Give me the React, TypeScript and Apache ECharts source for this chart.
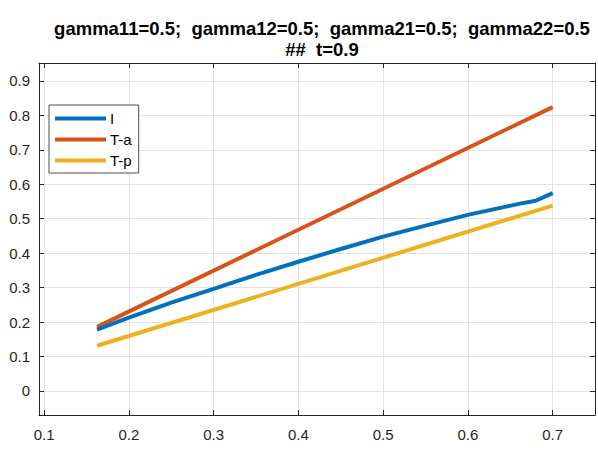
import React, { useEffect, useRef } from "react";
import * as echarts from "echarts";

const xValuesLinear: number[] = [0.1625, 0.7];
const seriesTa: number[] = [0.186, 0.824];
const seriesTp: number[] = [0.131, 0.538];

const xValuesI: number[] = [0.1625, 0.2, 0.25, 0.3, 0.35, 0.4, 0.45, 0.5, 0.55, 0.6, 0.66, 0.68, 0.7];
const seriesI: number[] = [0.178, 0.213, 0.256, 0.296, 0.337, 0.375, 0.412, 0.448, 0.48, 0.511, 0.543, 0.552, 0.574];

const seriesNames: string[] = ["I", "T-a", "T-p"];
const titleLines: string[] = [
  "gamma11=0.5;  gamma12=0.5;  gamma21=0.5;  gamma22=0.5",
  "##  t=0.9",
];

const FONT = "'Liberation Sans', Arial, Helvetica, sans-serif";
const AXIS_COLOR = "#262626";
const GRID_COLOR = "#e3e3e3";

export default function App() {
  const ref = useRef<HTMLDivElement>(null);
  useEffect(() => {
    if (!ref.current) return;
    const chart = echarts.init(ref.current, undefined, { renderer: "svg" });
    const pair = (xs: number[], ys: number[]) => xs.map((x, i) => [x, ys[i]]);
    const baseX = {
      type: "value" as const,
      min: 0.094,
      max: 0.75,
      minInterval: 0.1,
      maxInterval: 0.1,
    };
    const baseY = {
      type: "value" as const,
      min: -0.07,
      max: 0.952,
      minInterval: 0.1,
      maxInterval: 0.1,
    };
    chart.setOption({
      animation: false,
      backgroundColor: "#ffffff",
      textStyle: { fontFamily: FONT },
      title: {
        text: titleLines.join("\n"),
        left: 317,
        top: 13,
        textAlign: "center",
        textStyle: {
          fontFamily: FONT,
          fontSize: 18.5,
          fontWeight: "bold",
          color: "#000000",
          lineHeight: 21,
        },
      },
      grid: { left: 39, right: 3, top: 63, bottom: 38, containLabel: false },
      legend: {
        data: seriesNames,
        orient: "vertical",
        left: 49,
        top: 105,
        icon: "rect",
        itemWidth: 51,
        itemHeight: 4,
        itemGap: 6,
        padding: [6, 7, 5, 6],
        backgroundColor: "#ffffff",
        borderColor: "#4d4d4d",
        borderWidth: 1,
        borderRadius: 0,
        textStyle: { fontFamily: FONT, fontSize: 15, color: "#000000", padding: [0, 0, 0, -1], lineHeight: 15 },
      },
      xAxis: [
        {
          ...baseX,
          position: "bottom",
          axisLine: { show: true, onZero: false, lineStyle: { color: AXIS_COLOR, width: 1 } },
          axisTick: { show: true, inside: true, length: 5, lineStyle: { color: AXIS_COLOR } },
          axisLabel: {
            show: true,
            fontFamily: FONT,
            fontSize: 15,
            color: AXIS_COLOR,
            margin: 12,
            showMinLabel: false,
            showMaxLabel: false,
          },
          splitLine: { show: true, lineStyle: { color: GRID_COLOR, width: 1 } },
        },
        {
          ...baseX,
          position: "top",
          axisLine: { show: true, onZero: false, lineStyle: { color: AXIS_COLOR, width: 1 } },
          axisTick: { show: true, inside: true, length: 5, lineStyle: { color: AXIS_COLOR } },
          axisLabel: { show: false },
          splitLine: { show: false },
        },
      ],
      yAxis: [
        {
          ...baseY,
          position: "left",
          axisLine: { show: true, onZero: false, lineStyle: { color: AXIS_COLOR, width: 1 } },
          axisTick: { show: true, inside: true, length: 5, lineStyle: { color: AXIS_COLOR } },
          axisLabel: {
            show: true,
            fontFamily: FONT,
            fontSize: 15,
            color: AXIS_COLOR,
            margin: 9,
            showMinLabel: false,
            showMaxLabel: false,
          },
          splitLine: { show: true, lineStyle: { color: GRID_COLOR, width: 1 } },
        },
        {
          ...baseY,
          position: "right",
          axisLine: { show: true, onZero: false, lineStyle: { color: AXIS_COLOR, width: 1 } },
          axisTick: { show: true, inside: true, length: 5, lineStyle: { color: AXIS_COLOR } },
          axisLabel: { show: false },
          splitLine: { show: false },
        },
      ],
      series: [
        {
          name: seriesNames[0],
          type: "line",
          data: pair(xValuesI, seriesI),
          showSymbol: false,
          symbol: "none",
          lineStyle: { color: "#0072BD", width: 4 },
          itemStyle: { color: "#0072BD" },
          z: 3,
        },
        {
          name: seriesNames[1],
          type: "line",
          data: pair(xValuesLinear, seriesTa),
          showSymbol: false,
          symbol: "none",
          lineStyle: { color: "#D95319", width: 4 },
          itemStyle: { color: "#D95319" },
          z: 2,
        },
        {
          name: seriesNames[2],
          type: "line",
          data: pair(xValuesLinear, seriesTp),
          showSymbol: false,
          symbol: "none",
          lineStyle: { color: "#EDB120", width: 4 },
          itemStyle: { color: "#EDB120" },
          z: 1,
        },
      ],
    });
    return () => chart.dispose();
  }, []);
  return (
    <div
      ref={ref}
      style={{ position: "fixed", left: 0, top: 0, width: 598, height: 453, background: "#fff" }}
    />
  );
}
